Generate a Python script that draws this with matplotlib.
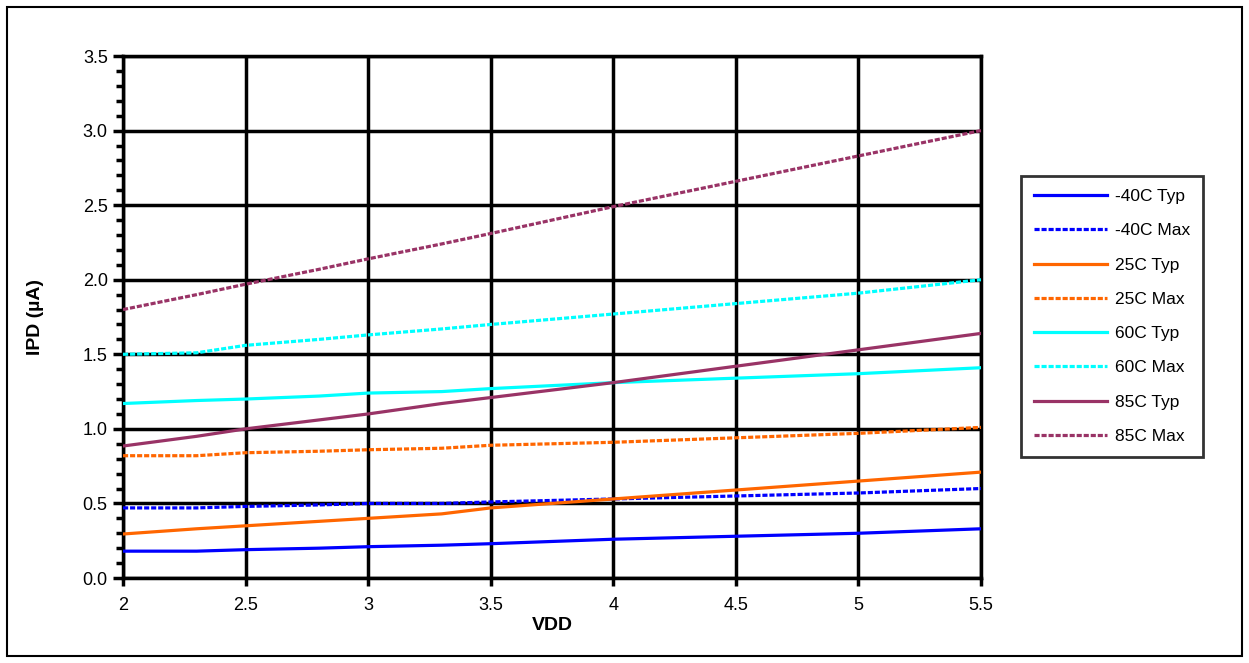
import matplotlib
matplotlib.use("Agg")
import matplotlib.pyplot as plt
from matplotlib.patches import Rectangle

plt.rcParams['font.family'] = ['Liberation Sans', 'DejaVu Sans']

vdd = [2.0, 2.3, 2.5, 2.8, 3.0, 3.3, 3.5, 4.0, 4.5, 5.0, 5.5]

m40_typ = [0.18, 0.18, 0.19, 0.20, 0.21, 0.22, 0.23, 0.26, 0.28, 0.30, 0.33]
m40_max = [0.47, 0.47, 0.48, 0.49, 0.50, 0.50, 0.51, 0.53, 0.55, 0.57, 0.60]
c25_typ = [0.295, 0.33, 0.35, 0.38, 0.40, 0.43, 0.47, 0.53, 0.59, 0.65, 0.71]
c25_max = [0.82, 0.82, 0.84, 0.85, 0.86, 0.87, 0.89, 0.91, 0.94, 0.97, 1.01]
c60_typ = [1.17, 1.19, 1.20, 1.22, 1.24, 1.25, 1.27, 1.31, 1.34, 1.37, 1.41]
c60_max = [1.50, 1.51, 1.56, 1.60, 1.63, 1.67, 1.70, 1.77, 1.84, 1.91, 2.00]
c85_typ = [0.885, 0.95, 1.00, 1.06, 1.10, 1.17, 1.21, 1.31, 1.42, 1.53, 1.64]
c85_max = [1.80, 1.90, 1.97, 2.07, 2.14, 2.24, 2.31, 2.49, 2.66, 2.83, 3.00]

series = [
    ("-40C Typ", m40_typ, "#0000FF", "-"),
    ("-40C Max", m40_max, "#0000FF", "--"),
    ("25C Typ", c25_typ, "#FF6600", "-"),
    ("25C Max", c25_max, "#FF6600", "--"),
    ("60C Typ", c60_typ, "#00FFFF", "-"),
    ("60C Max", c60_max, "#00FFFF", "--"),
    ("85C Typ", c85_typ, "#993366", "-"),
    ("85C Max", c85_max, "#993366", "--"),
]

x_ticks = [2, 2.5, 3, 3.5, 4, 4.5, 5, 5.5]
x_ticklabels = ["2", "2.5", "3", "3.5", "4", "4.5", "5", "5.5"]
y_ticks = [0.0, 0.5, 1.0, 1.5, 2.0, 2.5, 3.0, 3.5]
y_ticklabels = ["0.0", "0.5", "1.0", "1.5", "2.0", "2.5", "3.0", "3.5"]

fig = plt.figure(figsize=(12.49, 6.63), dpi=100)
ax = fig.add_axes([0.0985, 0.1282, 0.6869, 0.7873])

for label, vals, color, ls in series:
    if ls == "--":
        ax.plot(vdd, vals, color=color, lw=2.3, linestyle=(0, (1.6, 0.6)), label=label, zorder=3)
    else:
        ax.plot(vdd, vals, color=color, lw=2.3, linestyle="-", label=label, zorder=3)

ax.set_xlim(2, 5.5)
ax.set_ylim(0, 3.5)
ax.set_xticks(x_ticks)
ax.set_xticklabels(x_ticklabels, fontsize=13)
ax.set_yticks(y_ticks)
ax.set_yticklabels(y_ticklabels, fontsize=13)
ax.set_yticks([i / 10 for i in range(36)], minor=True)
ax.tick_params(axis='y', which='major', length=7, width=2.5, direction='out', pad=4)
ax.tick_params(axis='y', which='minor', length=5, width=2.5, direction='out')
ax.tick_params(axis='x', which='major', length=6, width=2.5, direction='out', pad=8)

ax.grid(True, which='major', color='black', lw=2.5, zorder=1)
ax.set_axisbelow(True)
for s in ax.spines.values():
    s.set_linewidth(2.5)
    s.set_color('black')

ax.set_xlabel("VDD", fontsize=14, fontweight='bold', labelpad=2)
ax.set_ylabel("IPD (µA)", fontsize=14, fontweight='bold', labelpad=28)

leg = fig.legend(loc='upper left', bbox_to_anchor=(0.8175, 0.7345), fontsize=12.5,
                 frameon=True, fancybox=False, handlelength=4.2, handletextpad=0.45,
                 labelspacing=1.1, borderpad=0.75, borderaxespad=0)
leg.get_frame().set_edgecolor('black')
leg.get_frame().set_linewidth(2.0)

fig.patches.append(Rectangle((0.006, 0.011), 0.988, 0.978, transform=fig.transFigure,
                             fill=False, edgecolor='black', lw=1.5))

fig.savefig("out.png", dpi=100)
